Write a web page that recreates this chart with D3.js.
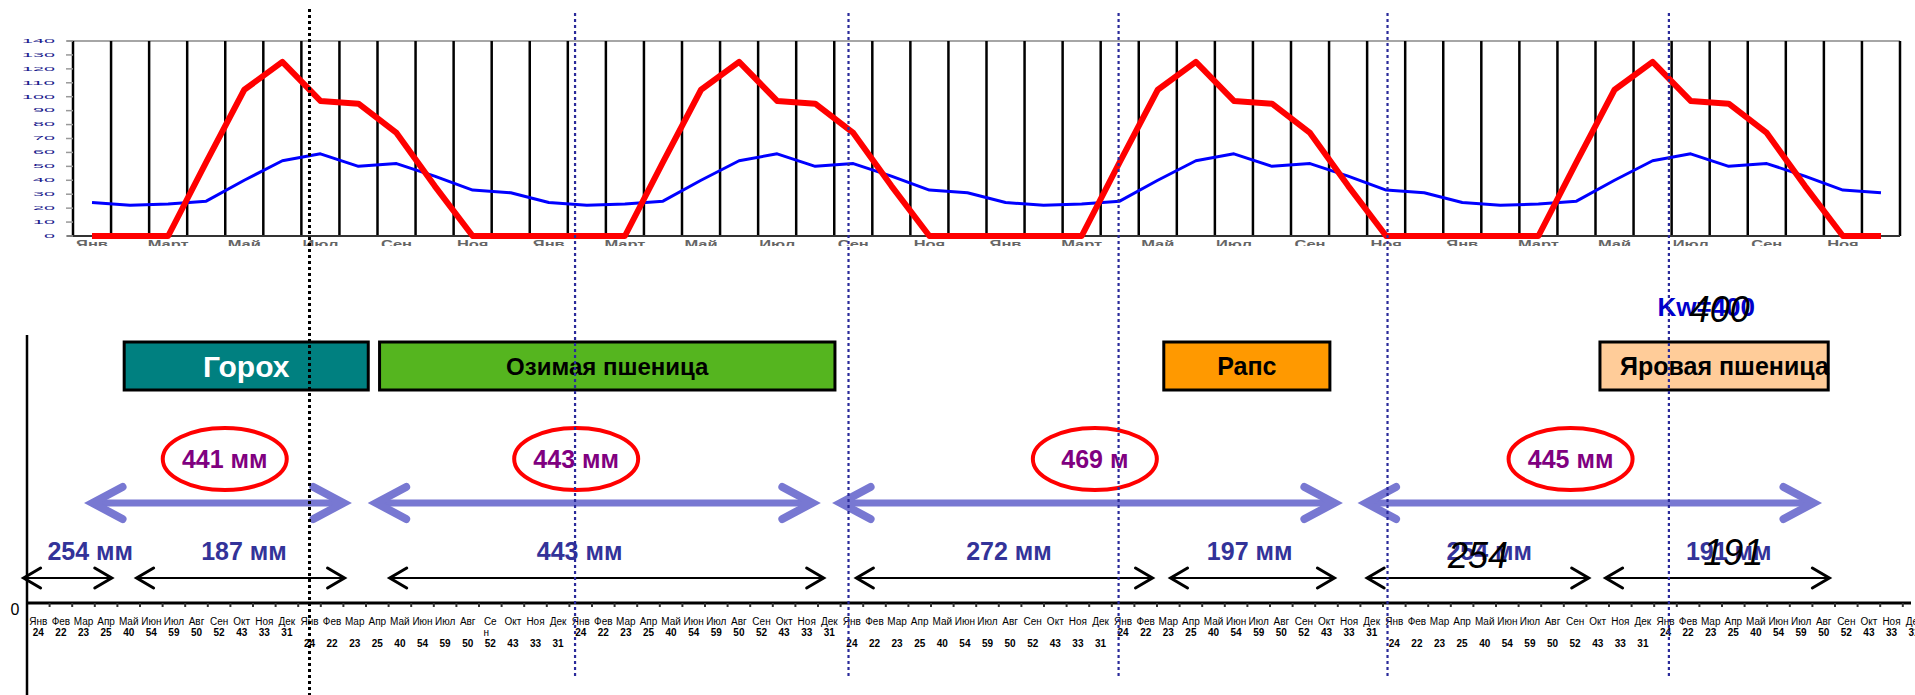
<!DOCTYPE html>
<html>
<head>
<meta charset="utf-8">
<script src="https://cdn.jsdelivr.net/npm/d3@7"></script>
<style>
  body { margin: 0; background: #fff; }
  svg { display: block; font-family: "Liberation Sans", Arial, sans-serif; }
</style>
</head>
<body>
<div id="chart"></div>
<script>
// ---- data ----
var months = ["Янв","Фев","Мар","Апр","Май","Июн","Июл","Авг","Сен","Окт","Ноя","Дек"]
var topMonthLabels = ["Янв","Март","Май","Июл","Сен","Ноя"]
var rain = [24,22,23,25,40,54,59,50,52,43,33,31]      // осадки, мм
var evap = [0,0,0,53,105,125,97,95,74,36,0,0]          // потребность, мм
var yTicks = [0,10,20,30,40,50,60,70,80,90,100,110,120,130,140]
var topYears = 4
var bottomYears = 7
var valueRow = [2,3,2,3,2,3,2]          // строка подписи значения по годам
var dividers = [12.5, 24.25, 36.35, 48.3, 60.2, 72.65]   // в месяцах нижней оси

var crops = ["Горох","Озимая пшеница","Рапс","Яровая пшеница"]
var cropStart = [4.3, 15.6, 50.3, 69.6]
var cropEnd = [15.1, 35.75, 57.65, 79.7]

var seasonTotal = ["441 мм","443 мм","469 м","445 мм"]
var seasonStart = [2.9, 15.45, 36.0, 59.25]
var seasonEnd = [14.0, 34.75, 57.85, 79.05]
var seasonMid = [8.75, 24.3, 47.25, 68.3]

var partLabel = ["254 мм","187 мм","443 мм","272 мм","197 мм","254 мм","191 мм"]
var partStart = [-0.15, 4.85, 16.05, 36.7, 50.6, 59.3, 69.85]
var partEnd = [3.75, 14.05, 35.25, 49.8, 57.85, 69.1, 79.75]
var partMid = [2.8, 9.6, 24.45, 43.45, 54.1, 64.7, 75.3]

var kwLabel = "Kw=400"
var kwAt = 74.3
var overlayText = ["400","254","191"]
var overlayAt = [74.9, 64.2, 75.5]

// ---- layout ----
var W = 1915, H = 695
var svg = d3.select("#chart").append("svg").attr("width", W).attr("height", H)

svg.append("defs").append("clipPath").attr("id", "topclip")
    .append("rect").attr("x", 0).attr("y", 0).attr("width", W).attr("height", 246)

// ================= top chart =================
var xTop = d3.scaleLinear().domain([0, 12 * topYears]).range([73, 1900])
var yTop = d3.scaleLinear().domain([0, 140]).range([236, 41])

var topSeries = d3.range(12 * topYears).map(function(i){
    return { m: i + 0.5, rain: rain[i % 12], evap: evap[i % 12] }
})

var topG = svg.append("g").attr("clip-path", "url(#topclip)")

topG.append("line")
    .attr("x1", 67).attr("x2", xTop(12 * topYears))
    .attr("y1", yTop(140)).attr("y2", yTop(140))
    .attr("stroke", "#a6a6a6").attr("stroke-width", 2)

topG.selectAll(".vgrid")
    .data(d3.range(12 * topYears + 1))
    .enter().append("line")
    .attr("class", "vgrid")
    .attr("x1", function(d){ return xTop(d) })
    .attr("x2", function(d){ return xTop(d) })
    .attr("y1", yTop(140)).attr("y2", yTop(0))
    .attr("stroke", "#000").attr("stroke-width", 2.5)

topG.append("line")
    .attr("x1", 67).attr("x2", xTop(12 * topYears))
    .attr("y1", yTop(0)).attr("y2", yTop(0))
    .attr("stroke", "#333").attr("stroke-width", 2)

topG.selectAll(".ytick")
    .data(yTicks)
    .enter().append("line")
    .attr("x1", 66).attr("x2", 73)
    .attr("y1", function(d){ return yTop(d) })
    .attr("y2", function(d){ return yTop(d) })
    .attr("stroke", "#999").attr("stroke-width", 1.5)

topG.selectAll(".ylab")
    .data(yTicks)
    .enter().append("text")
    .attr("x", 55)
    .attr("y", function(d){ return yTop(d) + 1.8 })
    .attr("text-anchor", "end")
    .attr("font-size", 5)
    .attr("textLength", function(d){ return String(d).length * 11 })
    .attr("lengthAdjust", "spacingAndGlyphs")
    .attr("fill", "#1a1a8c")
    .text(function(d){ return d })

var lineRain = d3.line().x(function(d){ return xTop(d.m) }).y(function(d){ return yTop(d.rain) })
var lineEvap = d3.line().x(function(d){ return xTop(d.m) }).y(function(d){ return yTop(d.evap) })

topG.append("path").datum(topSeries)
    .attr("d", lineRain)
    .attr("fill", "none").attr("stroke", "#0000ff").attr("stroke-width", 3)
    .attr("stroke-linejoin", "round")

topG.append("path").datum(topSeries)
    .attr("d", lineEvap)
    .attr("fill", "none").attr("stroke", "#ff0000").attr("stroke-width", 6)
    .attr("stroke-linejoin", "round")

topG.selectAll(".xlab")
    .data(d3.range(0, 12 * topYears, 2))
    .enter().append("text")
    .attr("transform", function(d){ return "translate(" + xTop(d + 0.5) + ",248) scale(1.5,1)" })
    .attr("text-anchor", "middle")
    .attr("font-size", 11)
    .attr("font-weight", "bold")
    .attr("fill", "#666")
    .text(function(d){ return topMonthLabels[(d % 12) / 2] })

// ================= bottom chart =================
var x2 = d3.scaleLinear().domain([0, 84]).range([27, 27 + 84 * 22.6])
var axisY = 603

var bot = svg.append("g")

bot.append("line")
    .attr("x1", x2(0)).attr("x2", x2(0))
    .attr("y1", 335).attr("y2", H)
    .attr("stroke", "#000").attr("stroke-width", 2.5)

bot.append("line")
    .attr("x1", x2(0)).attr("x2", W - 4)
    .attr("y1", axisY).attr("y2", axisY)
    .attr("stroke", "#000").attr("stroke-width", 3)

bot.selectAll(".btick")
    .data(d3.range(1, 12 * bottomYears).filter(function(k){ return x2(k) < W - 4 }))
    .enter().append("line")
    .attr("x1", function(d){ return x2(d) }).attr("x2", function(d){ return x2(d) })
    .attr("y1", axisY).attr("y2", axisY + 4)
    .attr("stroke", "#333").attr("stroke-width", 2)

bot.append("text")
    .attr("x", 15).attr("y", 615)
    .attr("text-anchor", "middle")
    .attr("font-size", 16)
    .text("0")

var cells = []
for (var yr = 0; yr < bottomYears; yr++) {
    for (var m = 0; m < 12; m++) {
        cells.push({ k: yr * 12 + m, name: months[m], value: rain[m], row: valueRow[yr],
                     wrap: (yr === 1 && m === 8) })
    }
}

bot.selectAll(".mname")
    .data(cells)
    .enter().append("text")
    .attr("x", function(d){ return x2(d.k + 0.5) })
    .attr("y", 625)
    .attr("text-anchor", "middle")
    .attr("font-size", 10)
    .text(function(d){ return d.wrap ? d.name.slice(0, 2) : d.name })

bot.selectAll(".mwrap")
    .data(cells.filter(function(d){ return d.wrap }))
    .enter().append("text")
    .attr("x", function(d){ return x2(d.k + 0.5) - 4 })
    .attr("y", 636)
    .attr("text-anchor", "middle")
    .attr("font-size", 10)
    .text(function(d){ return d.name.slice(2) })

bot.selectAll(".mval")
    .data(cells)
    .enter().append("text")
    .attr("x", function(d){ return x2(d.k + 0.5) })
    .attr("y", function(d){ return d.row === 2 ? 636 : 647 })
    .attr("text-anchor", "middle")
    .attr("font-size", 10)
    .attr("font-weight", "bold")
    .text(function(d){ return d.value })

// культуры
var cropFill = ["#008080", "#55b51f", "#ff9900", "#ffcc99"]
var cropColor = ["#fff", "#000", "#000", "#000"]
var cropSize = [30, 24, 25, 25]
crops.forEach(function(c, i){
    var xa = x2(cropStart[i]), xb = x2(cropEnd[i])
    bot.append("rect")
        .attr("x", xa).attr("y", 342)
        .attr("width", xb - xa).attr("height", 48)
        .attr("fill", cropFill[i]).attr("stroke", "#000").attr("stroke-width", 3)
    var wide = i === 3
    bot.append("text")
        .attr("x", wide ? xa + 20 : (xa + xb) / 2)
        .attr("y", 366 + cropSize[i] * 0.36)
        .attr("text-anchor", wide ? "start" : "middle")
        .attr("font-size", cropSize[i])
        .attr("font-weight", "bold")
        .attr("fill", cropColor[i])
        .text(c)
})

function dblArrow(xa, xb, y, head, half, width, color){
    bot.append("line")
        .attr("x1", xa + width / 2).attr("x2", xb - width / 2)
        .attr("y1", y).attr("y2", y)
        .attr("stroke", color).attr("stroke-width", width)
    bot.append("path")
        .attr("d", "M" + (xa + head) + "," + (y - half) + "L" + xa + "," + y + "L" + (xa + head) + "," + (y + half))
        .attr("fill", "none").attr("stroke", color).attr("stroke-width", width + 1)
        .attr("stroke-linecap", "round")
    bot.append("path")
        .attr("d", "M" + (xb - head) + "," + (y - half) + "L" + xb + "," + y + "L" + (xb - head) + "," + (y + half))
        .attr("fill", "none").attr("stroke", color).attr("stroke-width", width + 1)
        .attr("stroke-linecap", "round")
}

// сезонные суммы
seasonTotal.forEach(function(t, i){
    dblArrow(x2(seasonStart[i]), x2(seasonEnd[i]), 503, 30, 16, 7, "#7878d2")
    bot.append("ellipse")
        .attr("cx", x2(seasonMid[i])).attr("cy", 459)
        .attr("rx", 62).attr("ry", 31)
        .attr("fill", "none").attr("stroke", "#ff0000").attr("stroke-width", 4)
    bot.append("text")
        .attr("x", x2(seasonMid[i])).attr("y", 468)
        .attr("text-anchor", "middle")
        .attr("font-size", 25).attr("font-weight", "bold")
        .attr("fill", "#800080")
        .text(t)
})

// части периодов
partLabel.forEach(function(t, i){
    dblArrow(x2(partStart[i]), x2(partEnd[i]), 578, 17, 10, 2, "#000")
    bot.append("text")
        .attr("x", x2(partMid[i])).attr("y", 560)
        .attr("text-anchor", "middle")
        .attr("font-size", 25).attr("font-weight", "bold")
        .attr("fill", "#333399")
        .text(t)
})

bot.append("text")
    .attr("x", x2(kwAt)).attr("y", 316)
    .attr("text-anchor", "middle")
    .attr("font-size", 26).attr("font-weight", "bold")
    .attr("fill", "#0000cc")
    .text(kwLabel)

var overlayY = [322, 568, 565]
overlayText.forEach(function(t, i){
    bot.append("text")
        .attr("x", x2(overlayAt[i])).attr("y", overlayY[i])
        .attr("text-anchor", "middle")
        .attr("font-size", 36).attr("font-style", "italic")
        .attr("fill", "#000")
        .text(t)
})

// разделители лет
svg.selectAll(".divider")
    .data(dividers)
    .enter().append("line")
    .attr("x1", function(d){ return x2(d) }).attr("x2", function(d){ return x2(d) })
    .attr("y1", function(d, i){ return i === 0 ? 9 : 13 })
    .attr("y2", function(d, i){ return i === 0 ? H : 679 })
    .attr("stroke", function(d, i){ return i === 0 ? "#000" : "#2a2a9a" })
    .attr("stroke-width", function(d, i){ return i === 0 ? 3 : 2.2 })
    .attr("stroke-dasharray", "3,3")
</script>
</body>
</html>
